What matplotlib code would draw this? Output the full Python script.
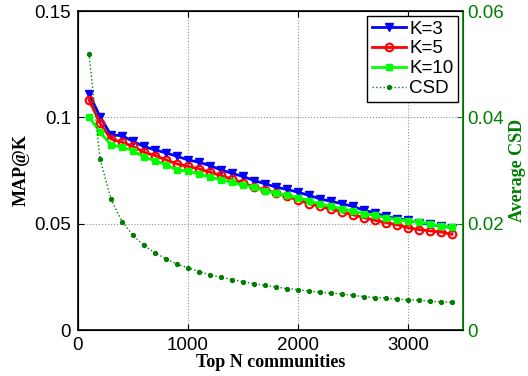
import numpy as np
import matplotlib
matplotlib.use('Agg')
import matplotlib.pyplot as plt

plt.rcParams['font.family'] = ['Liberation Sans', 'DejaVu Sans']

top_n = list(range(100, 3500, 100))

map_k3 = [0.1112, 0.1003, 0.0917, 0.0914, 0.0887, 0.0863, 0.0847, 0.0833, 0.0817, 0.0800,
          0.0789, 0.0773, 0.0753, 0.0737, 0.0722, 0.0703, 0.0688, 0.0672, 0.0661, 0.0648,
          0.0633, 0.0617, 0.0605, 0.0594, 0.0581, 0.0563, 0.0550, 0.0534, 0.0523, 0.0516,
          0.0505, 0.0497, 0.0488, 0.0481]
map_k5 = [0.1083, 0.0972, 0.0898, 0.0883, 0.0863, 0.0836, 0.0820, 0.0800, 0.0781, 0.0769,
          0.0758, 0.0742, 0.0727, 0.0708, 0.0692, 0.0672, 0.0659, 0.0644, 0.0628, 0.0612,
          0.0594, 0.0581, 0.0570, 0.0555, 0.0542, 0.0528, 0.0516, 0.0505, 0.0495, 0.0481,
          0.0472, 0.0466, 0.0461, 0.0450]
map_k10 = [0.1003, 0.0930, 0.0872, 0.0859, 0.0844, 0.0813, 0.0797, 0.0777, 0.0753, 0.0747,
           0.0734, 0.0719, 0.0706, 0.0695, 0.0680, 0.0672, 0.0653, 0.0644, 0.0633, 0.0622,
           0.0609, 0.0591, 0.0581, 0.0570, 0.0559, 0.0547, 0.0539, 0.0528, 0.0519, 0.0513,
           0.0508, 0.0500, 0.0488, 0.0484]
csd = [0.0520, 0.0322, 0.0246, 0.0204, 0.0178, 0.0159, 0.0145, 0.0134, 0.0124, 0.0117,
       0.0110, 0.0104, 0.0099, 0.0095, 0.0091, 0.0087, 0.0084, 0.0081, 0.0078, 0.0076,
       0.0073, 0.0071, 0.0069, 0.0068, 0.0065, 0.0063, 0.0061, 0.0060, 0.0058, 0.0057,
       0.0056, 0.0054, 0.0053, 0.0052]

x_ticks = [0, 1000, 2000, 3000]
left_ticks = [0, 0.05, 0.1, 0.15]
left_labels = ['0', '0.05', '0.1', '0.15']
right_ticks = [0, 0.02, 0.04, 0.06]
right_labels = ['0', '0.02', '0.04', '0.06']

dark_green = '#007f00'

fig = plt.figure(figsize=(5.28, 3.76), dpi=100)
ax = fig.add_axes([0.1477, 0.1223, 0.7292, 0.8484])
ax2 = ax.twinx()

l1, = ax.plot(top_n, map_k3, color='blue', marker='v', markersize=6, lw=2, label='K=3')
l2, = ax.plot(top_n, map_k5, color='red', marker='o', markersize=5.5, mfc='none', mew=1.5,
              lw=2, label='K=5')
l3, = ax.plot(top_n, map_k10, color='#00ff00', marker='s', markersize=5, lw=2, label='K=10')
l4, = ax2.plot(top_n, csd, color=dark_green, ls=':', lw=1, marker='o', markersize=2.8,
               label='CSD')

ax.set_xlim(0, 3500)
ax.set_ylim(0, 0.15)
ax2.set_ylim(0, 0.06)
ax.set_xticks(x_ticks)
ax.set_yticks(left_ticks)
ax.set_yticklabels(left_labels)
ax2.set_yticks(right_ticks)
ax2.set_yticklabels(right_labels)

ax.grid(True, ls=':', color='#909090', lw=0.8)
ax.tick_params(direction='in', labelsize=13.5, length=4, top=True, pad=5)
ax2.tick_params(direction='in', labelsize=13.5, length=4, colors=dark_green, pad=3)
ax2.spines['right'].set_color(dark_green)
ax2.spines['right'].set_linewidth(1.2)
for s in ['left', 'bottom', 'top']:
    ax.spines[s].set_linewidth(1.2)

ax.set_xlabel('Top N communities', family='Liberation Serif', fontweight='bold',
              fontsize=13, labelpad=0)
ax.set_ylabel('MAP@K', family='Liberation Serif', fontweight='bold', fontsize=13,
              labelpad=3)
ax2.set_ylabel('Average CSD', family='Liberation Serif', fontweight='bold', fontsize=13,
               color=dark_green, labelpad=4)

leg = ax2.legend([l1, l2, l3, l4], ['K=3', 'K=5', 'K=10', 'CSD'], loc='upper right',
                 fontsize=13.5, fancybox=False, edgecolor='black', framealpha=1,
                 handlelength=1.8, handletextpad=0.2, borderpad=0.25, labelspacing=0.15,
                 borderaxespad=0.25)
leg.get_frame().set_linewidth(1)

fig.savefig('out.png', dpi=100)
